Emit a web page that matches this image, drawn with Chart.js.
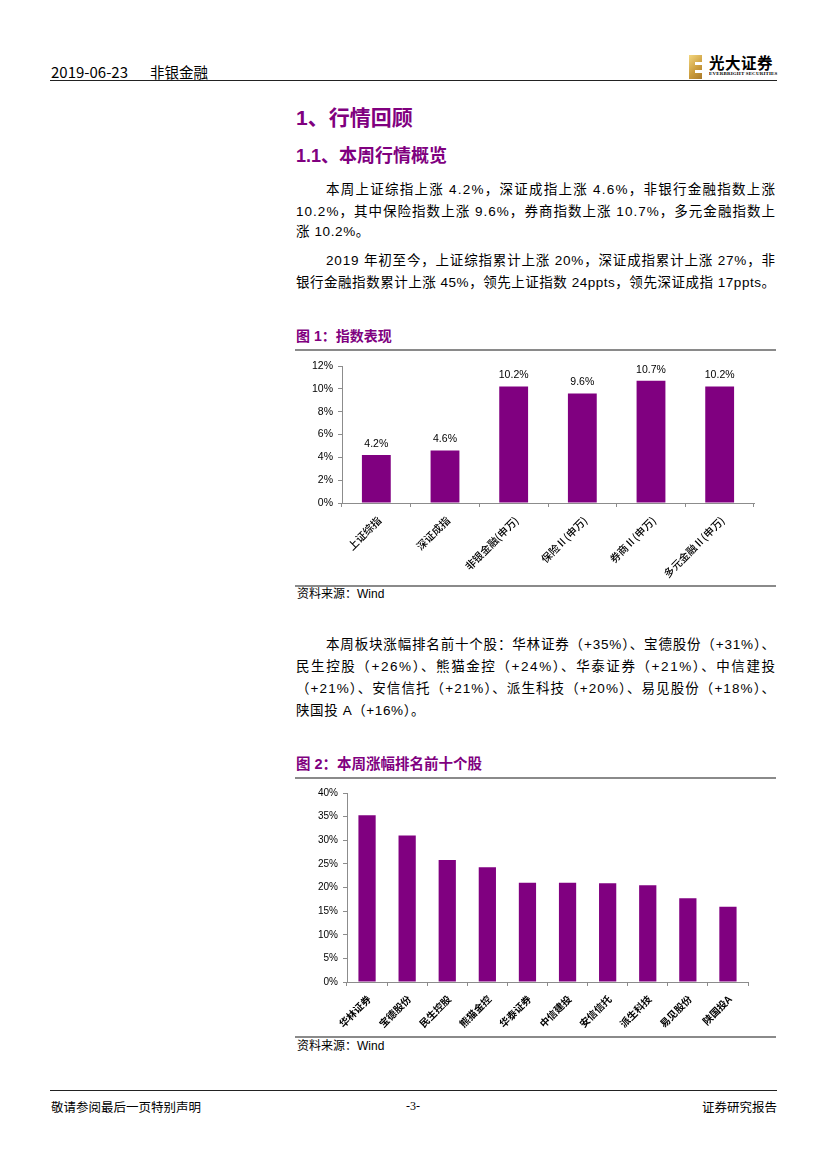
<!DOCTYPE html>
<html><head><meta charset="utf-8">
<script src="https://cdn.jsdelivr.net/npm/chart.js@4.4.1/dist/chart.umd.min.js"></script>
<style>
html,body{margin:0;padding:0;background:#fff;}
body{width:827px;height:1169px;position:relative;overflow:hidden;font-family:"Liberation Sans","Noto Sans CJK SC",sans-serif;color:#000;}
.a{position:absolute;white-space:nowrap;}
.bar{position:absolute;}
.ln{position:absolute;height:22px;line-height:22px;font-size:13.5px;white-space:nowrap;letter-spacing:0.6px;}
.h{color:#80007f;font-weight:bold;}
.box{position:absolute;}
</style></head>
<body>
<!-- header -->
<div class="a" style="left:51px;top:62px;height:20px;line-height:20px;font-size:15px;font-family:'Noto Sans CJK SC',sans-serif;">2019-06-23</div>
<div class="a" style="left:150px;top:62px;height:20px;line-height:20px;font-size:14.5px;font-family:'Noto Sans CJK SC',sans-serif;">非银金融</div>
<div class="bar" style="left:50px;top:79.5px;width:727px;height:1.5px;background:#222;"></div>
<!-- logo -->
<div class="bar" style="left:689px;top:55px;width:13px;height:24px;background:linear-gradient(135deg,#f3d67e,#c99a3a 60%,#a9792a);"></div>
<div class="bar" style="left:695px;top:62px;width:7px;height:2.5px;background:#fff;"></div>
<div class="bar" style="left:695px;top:70px;width:7px;height:2.5px;background:#fff;"></div>
<div class="a" style="left:709px;top:52px;height:20px;line-height:20px;font-size:15.5px;font-weight:bold;letter-spacing:0.5px;font-family:'Noto Sans CJK SC',sans-serif;">光大证券</div>
<div class="a" style="left:709px;top:72px;height:6px;line-height:6px;font-size:10px;font-family:'Liberation Serif',serif;font-weight:bold;transform:scale(0.5);transform-origin:0 0;letter-spacing:0.3px;">EVERBRIGHT SECURITIES</div>

<!-- headings -->
<div class="a h" style="left:296px;top:105px;height:25px;line-height:25px;font-size:21px;">1、行情回顾</div>
<div class="a h" style="left:296px;top:145px;height:23px;line-height:23px;font-size:18px;">1.1、本周行情概览</div>

<!-- paragraph 1 -->
<div class="ln jl" data-w="449" style="left:326px;top:179px;">本周上证综指上涨 4.2%，深证成指上涨 4.6%，非银行金融指数上涨</div>
<div class="ln jl" data-w="479" style="left:296px;top:200.5px;">10.2%，其中保险指数上涨 9.6%，券商指数上涨 10.7%，多元金融指数上</div>
<div class="ln" style="left:296px;top:221px;">涨 10.2%。</div>
<!-- paragraph 2 -->
<div class="ln jl" data-w="449" style="left:326px;top:249.5px;">2019 年初至今，上证综指累计上涨 20%，深证成指累计上涨 27%，非</div>
<div class="ln jl" data-w="479" style="left:296px;top:271.5px;">银行金融指数累计上涨 45%，领先上证指数 24ppts，领先深证成指 17ppts。</div>

<!-- figure 1 -->
<div class="a h" style="left:296px;top:326px;height:21px;line-height:21px;font-size:14px;">图 1：指数表现</div>
<div class="bar" style="left:295px;top:348.5px;width:481px;height:2px;background:#8a8a8a;"></div>
<div class="box" style="left:296px;top:352px;width:480px;height:232px;"><canvas id="c1"></canvas></div>
<div class="bar" style="left:295px;top:585px;width:481px;height:2px;background:#8a8a8a;"></div>
<div class="a" style="left:297px;top:586px;height:17px;line-height:17px;font-size:12px;">资料来源：Wind</div>

<!-- paragraph 3 -->
<div class="ln jl" data-w="449" style="left:326px;top:634px;">本周板块涨幅排名前十个股：华林证券（+35%）、宝德股份（+31%）、</div>
<div class="ln jl" data-w="479" style="left:296px;top:656px;">民生控股（+26%）、熊猫金控（+24%）、华泰证券（+21%）、中信建投</div>
<div class="ln jl" data-w="479" style="left:296px;top:678px;">（+21%）、安信信托（+21%）、派生科技（+20%）、易见股份（+18%）、</div>
<div class="ln" style="left:296px;top:700px;">陕国投 A（+16%）。</div>

<!-- figure 2 -->
<div class="a h" style="left:296px;top:754px;height:21px;line-height:21px;font-size:14.5px;">图 2：本周涨幅排名前十个股</div>
<div class="bar" style="left:295px;top:776.5px;width:481px;height:2px;background:#8a8a8a;"></div>
<div class="box" style="left:296px;top:780px;width:480px;height:255px;"><canvas id="c2"></canvas></div>
<div class="bar" style="left:295px;top:1036px;width:481px;height:2px;background:#8a8a8a;"></div>
<div class="a" style="left:297px;top:1037.5px;height:17px;line-height:17px;font-size:12px;">资料来源：Wind</div>

<!-- footer -->
<div class="bar" style="left:50px;top:1089.5px;width:727px;height:1px;background:#222;"></div>
<div class="a" style="left:51px;top:1098px;height:17px;line-height:17px;font-size:12.5px;font-family:'Noto Sans CJK SC',sans-serif;">敬请参阅最后一页特别声明</div>
<div class="a" style="left:403px;top:1098px;width:20px;text-align:center;height:17px;line-height:17px;font-size:12px;font-family:'Liberation Serif',serif;">-3-</div>
<div class="a" style="right:50px;top:1098px;height:17px;line-height:17px;font-size:12.5px;font-family:'Noto Sans CJK SC',sans-serif;">证券研究报告</div>

<script>
// ---- data ----
const cats1 = ['上证综指', '深证成指', '非银金融(申万)', '保险Ⅱ(申万)', '券商Ⅱ(申万)', '多元金融Ⅱ(申万)'];
const vals1 = [4.2, 4.6, 10.2, 9.6, 10.7, 10.2];
const ticks1 = [0, 2, 4, 6, 8, 10, 12];

const cats2 = ['华林证券', '宝德股份', '民生控股', '熊猫金控', '华泰证券', '中信建投', '安信信托', '派生科技', '易见股份', '陕国投A'];
const vals2 = [35.3, 31.0, 25.8, 24.3, 21.0, 21.0, 20.9, 20.5, 17.7, 15.9];
const ticks2 = [0, 5, 10, 15, 20, 25, 30, 35, 40];

const PURPLE = '#800080';
const AXIS = '#8c8c8c';

const valueLabels = {
  id: 'valueLabels',
  afterDatasetsDraw(chart) {
    const ctx = chart.ctx;
    const meta = chart.getDatasetMeta(0);
    const data = chart.data.datasets[0].data;
    ctx.save();
    ctx.font = '10.5px "Liberation Sans", sans-serif';
    ctx.fillStyle = '#000';
    ctx.textAlign = 'center';
    ctx.textBaseline = 'middle';
    meta.data.forEach((bar, i) => {
      ctx.fillText(data[i].toFixed(1) + '%', bar.x, bar.y - 11);
    });
    ctx.restore();
  }
};

function makeChart(id, cats, vals, ticks, cfg, plugins) {
  return new Chart(document.getElementById(id), {
    type: 'bar',
    data: { labels: cats, datasets: [{ data: vals, backgroundColor: PURPLE, borderWidth: 0,
      barPercentage: cfg.barPct, categoryPercentage: 1 }] },
    plugins: plugins,
    options: {
      responsive: true, maintainAspectRatio: false, animation: false,
      devicePixelRatio: window.devicePixelRatio || 1,
      layout: { padding: { top: cfg.padTop, right: cfg.padRight, left: 0, bottom: 0 } },
      plugins: { legend: { display: false }, tooltip: { enabled: false }, title: { display: false } },
      scales: {
        x: {
          grid: { display: true, drawOnChartArea: false, drawTicks: true, tickLength: 4, color: AXIS, offset: true },
          border: { display: true, color: AXIS, width: 1 },
          ticks: { autoSkip: false, minRotation: 45, maxRotation: 45, padding: cfg.xPad, labelOffset: cfg.labelOffset,
            color: '#000', font: { family: '"Noto Sans CJK SC", sans-serif', size: cfg.catSize, weight: cfg.catWeight } },
          afterFit: s => { s.height = cfg.xH; }
        },
        y: {
          min: ticks[0], max: ticks[ticks.length - 1],
          afterBuildTicks: s => { s.ticks = ticks.map(v => ({ value: v })); },
          grid: { display: true, drawOnChartArea: false, drawTicks: true, tickLength: 4, color: AXIS },
          border: { display: true, color: AXIS, width: 1 },
          ticks: { padding: 5, color: '#000', callback: v => v + '%',
            font: { family: '"Liberation Sans", sans-serif', size: cfg.tickSize } },
          afterFit: s => { s.width = cfg.yW; }
        }
      }
    }
  });
}

function justifyLines() {
  document.querySelectorAll('.jl').forEach(el => {
    const T = +el.dataset.w;
    el.style.letterSpacing = '0px';
    const w = el.getBoundingClientRect().width;
    const n = [...el.textContent].length;
    el.style.letterSpacing = ((T - w) / (n - 1)) + 'px';
  });
}

function init() {
  justifyLines();
  makeChart('c1', cats1, vals1, ticks1, { barPct: 0.42, padTop: 14, padRight: 22, yW: 46, xH: 81,
    catSize: 10.5, catWeight: '500', tickSize: 10.5, xPad: 7, labelOffset: 3 }, [valueLabels]);
  makeChart('c2', cats2, vals2, ticks2, { barPct: 0.43, padTop: 13, padRight: 28, yW: 51, xH: 53,
    catSize: 10, catWeight: 'bold', tickSize: 10, xPad: 7, labelOffset: 2 }, []);
}
if (document.fonts && document.fonts.ready) { document.fonts.ready.then(init); } else { init(); }
</script>
</body></html>
